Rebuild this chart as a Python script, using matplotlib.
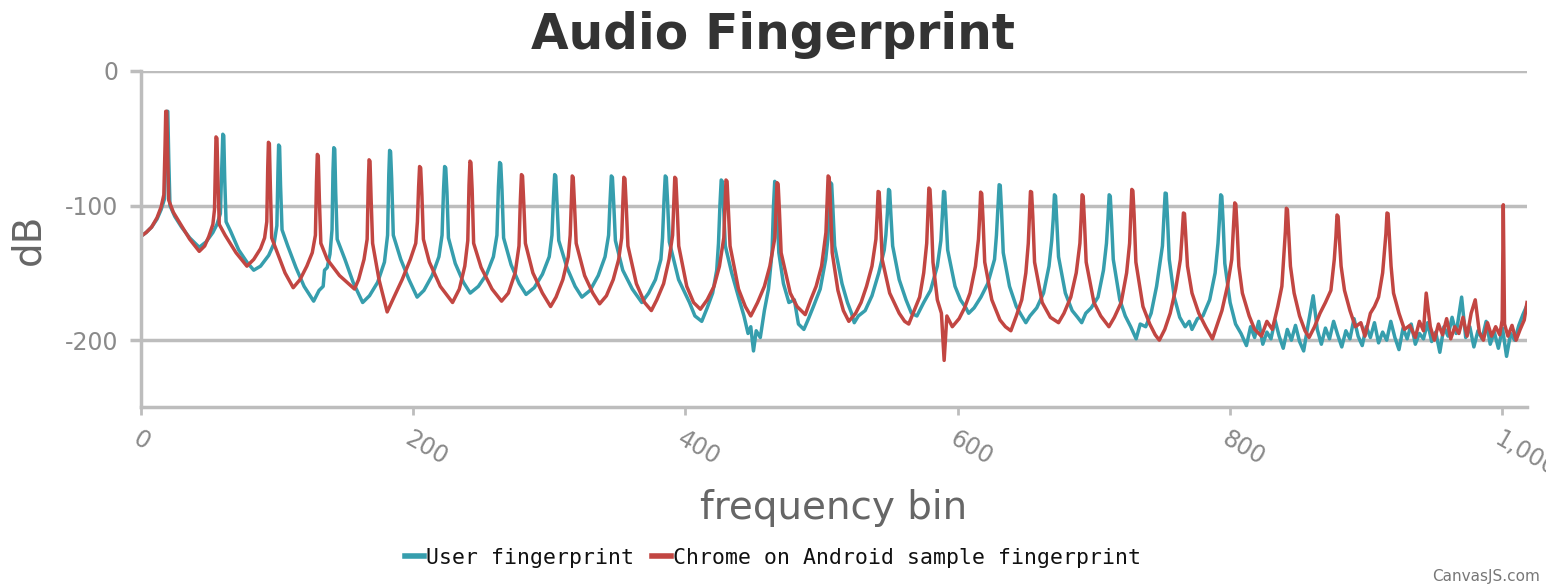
import matplotlib
matplotlib.use("Agg")
import matplotlib.pyplot as plt
from matplotlib.lines import Line2D

# (bin, dB)
user_points = [
    (0, -123), (4, -120), (8, -116), (12, -110), (15, -103), (17.5, -95), (18.6, -55), (19.2, -30), (19.9, -30),
    (20.6, -65), (21.5, -100), (25, -108), (30, -116), (36, -124), (43, -131),
    (48, -127), (53, -120), (56, -114), (58.5, -106), (59.6, -70), (60.3, -47), (61, -48), (61.7, -80), (62.7, -112),
    (66, -119), (72, -133), (78, -142), (83, -148),
    (88, -145), (94, -137), (98, -128), (100, -115), (100.8, -75), (101.3, -55), (102, -56), (102.7, -85),
    (103.8, -118), (108, -130), (114, -146), (120, -160), (127, -171),
    (131, -163), (134, -160), (135, -148), (137, -146), (139, -136), (140.5, -118), (141.2, -75), (141.8, -57),
    (142.5, -58), (143.2, -90), (144.3, -125), (150, -140), (156, -157), (163, -172),
    (168, -167), (174, -157), (179, -142), (181.3, -122), (182.2, -77), (182.8, -59), (183.5, -60), (184.3, -80),
    (185.5, -122), (191, -140), (197, -155), (203, -168),
    (208, -163), (214, -152), (219, -138), (221.3, -122), (222.4, -88), (223.2, -71), (224, -72), (224.9, -90),
    (226, -124), (231, -143), (237, -157), (242, -165),
    (248, -160), (254, -151), (259, -138), (261.6, -122), (262.7, -86), (263.6, -68), (264.4, -69), (265.3, -88),
    (266.5, -124), (272, -144), (278, -158), (283, -166),
    (289, -161), (295, -151), (300, -138), (302, -122), (303.1, -95), (304, -77), (304.8, -78), (305.7, -97),
    (307, -126), (313, -146), (319, -160), (324, -168),
    (330, -163), (336, -152), (341, -138), (343.6, -122), (344.7, -96), (345.6, -78), (346.4, -79), (347.3, -97),
    (348.6, -126), (354, -148), (361, -162), (368, -172),
    (373, -165), (378, -155), (382, -140), (383.2, -124), (384.3, -96), (385.2, -78), (386, -79), (386.9, -97),
    (388.2, -127), (395, -155), (403, -172), (407, -182), (412, -186),
    (416, -176), (420, -165), (423, -148), (424.3, -128), (425.4, -99), (426.3, -81), (427.1, -82), (428, -100),
    (429.3, -130), (434, -150), (439, -168), (443, -182), (446, -195), (448, -190), (450, -208), (452, -193),
    (455, -198), (458, -178),
    (461, -162), (463.6, -135), (464.7, -100), (465.6, -82), (466.4, -83), (467.3, -102), (468.6, -135), (472, -158),
    (476, -172), (480, -170), (483, -188), (487, -192), (490, -185),
    (494, -175), (499, -162), (503, -140), (504.6, -125), (505.7, -101), (506.6, -83), (507.4, -84), (508.3, -102),
    (509.6, -130), (515, -158), (519, -172), (522, -180), (524, -187), (527, -182),
    (532, -178), (537, -167), (542, -150), (546, -133), (547.2, -122), (548.3, -106), (549.2, -88), (550, -89),
    (550.9, -107), (552.2, -130), (557, -155), (562, -170), (566, -180), (570, -182),
    (575, -172), (580, -163), (585, -145), (587.6, -126), (588.7, -107), (589.6, -89.5), (590.4, -90), (591.3, -108),
    (592.6, -133), (598, -160), (602, -170), (606, -176), (608, -180), (612, -176),
    (617, -168), (622, -158), (627, -140), (628.4, -122), (629.5, -102), (630.4, -84.5), (631.2, -85), (632.1, -103),
    (633.4, -135), (638, -160), (643, -175), (647, -182), (650, -187), (653, -182),
    (658, -176), (663, -165), (667, -145), (669, -126), (670.1, -110), (671, -92), (671.8, -93), (672.7, -111),
    (674, -138), (679, -165), (684, -178), (688, -183), (691, -187), (694, -180),
    (698, -176), (703, -168), (707, -148), (709.2, -128), (710.3, -110), (711.2, -92), (712, -93), (712.9, -111),
    (714.2, -140), (719, -170), (723, -182), (727, -190), (731, -199), (734, -188),
    (738, -190), (742, -180), (746, -160), (750.3, -130), (751.4, -109), (752.3, -90.7), (753.1, -91), (754, -109),
    (755.3, -140), (759, -168), (763, -183), (767, -190), (770, -186), (772, -192), (776, -184),
    (780, -182), (785, -170), (789, -150), (791.1, -128), (792.2, -110), (793.1, -92), (793.9, -93), (794.8, -111),
    (796.1, -143), (800, -172), (804, -188), (808, -195), (812, -204),
    (815, -190), (818, -198), (821, -186), (824, -203), (827, -194), (830, -199), (833, -185), (836, -197),
    (839, -206), (842, -192), (845, -200), (848, -189), (851, -201), (854, -208), (857, -190), (861, -167),
    (864, -192), (867, -203), (870, -191), (873, -199), (876, -186), (879, -196), (882, -205), (885, -193),
    (888, -199), (891, -184), (894, -197), (897, -204), (900, -190), (903, -198), (906, -187), (909, -202),
    (912, -194), (915, -200), (918, -186), (921, -198), (924, -207), (927, -191), (930, -199), (933, -188),
    (936, -203), (939, -195), (942, -199), (945, -187), (948, -201), (951, -194), (954, -209), (957, -190),
    (960, -197), (963, -183), (966, -195), (970, -168), (973, -198), (976, -190), (979, -205), (982, -193),
    (985, -199), (988, -186), (991, -203), (994, -194), (997, -206), (1000, -191), (1003, -212), (1006, -195),
    (1009, -200), (1012, -189), (1015, -181), (1018, -174),
]

android_points = [
    (0, -123), (4, -120), (8, -116), (12, -109), (15, -101), (17, -92), (17.9, -55), (18.4, -30), (19.1, -30),
    (19.8, -62), (20.6, -96), (24, -105), (30, -115), (36, -125), (43, -134),
    (47, -130), (50, -123), (53, -114), (54.2, -103), (54.9, -70), (55.3, -49), (56, -50), (56.7, -80), (57.7, -114),
    (62, -122), (70, -135), (78, -145),
    (83, -140), (88, -132), (91, -124), (92.6, -112), (93.3, -72), (93.8, -53), (94.5, -54), (95.2, -85),
    (96.2, -124), (100, -134), (106, -150), (112, -161),
    (117, -155), (122, -145), (126, -135), (128.3, -122), (129.1, -82), (129.7, -62), (130.4, -63), (131.2, -95),
    (132.3, -128), (137, -140), (146, -152), (157, -162),
    (160, -155), (164, -140), (166.3, -125), (167.1, -85), (167.7, -66), (168.4, -67), (169.2, -95), (170.3, -128),
    (175, -155), (181, -179),
    (186, -168), (192, -155), (198, -140), (202, -128), (203.2, -112), (204.1, -86), (204.8, -71), (205.6, -72),
    (206.5, -92), (207.6, -125), (212, -142), (220, -160), (229, -172),
    (234, -162), (238, -145), (240.2, -126), (241.1, -85), (241.8, -67), (242.5, -68), (243.4, -88), (244.5, -128),
    (250, -146), (258, -162), (265, -171),
    (270, -165), (275, -150), (277.8, -130), (278.8, -96), (279.6, -77), (280.4, -78), (281.3, -98), (282.5, -128),
    (288, -150), (295, -165), (301, -175),
    (305, -168), (310, -155), (314, -138), (315.4, -122), (316.3, -96), (316.9, -78), (317.6, -79), (318.5, -98),
    (319.8, -128), (326, -152), (332, -165), (337, -173),
    (342, -167), (347, -155), (351, -140), (353.2, -124), (354.1, -97), (354.8, -79), (355.6, -80), (356.5, -99),
    (357.8, -130), (364, -158), (370, -172), (375, -178),
    (379, -170), (384, -158), (388, -140), (390.6, -122), (391.5, -97), (392.2, -79), (393, -80), (393.9, -100),
    (395.1, -130), (401, -160), (406, -172), (411, -177),
    (416, -170), (421, -160), (425, -145), (428.2, -124), (429.1, -99), (429.8, -81), (430.6, -82), (431.5, -101),
    (432.8, -130), (439, -162), (444, -175), (448, -182),
    (453, -172), (458, -160), (462, -145), (465.7, -124), (466.6, -101), (467.3, -83), (468.1, -84), (469, -103),
    (470.3, -135), (477, -165), (482, -175), (488, -181),
    (492, -170), (496, -160), (500, -145), (503.2, -120), (504.1, -96), (504.8, -78), (505.6, -79), (506.5, -99),
    (507.8, -135), (512, -163), (516, -178), (520, -186),
    (525, -180), (529, -172), (533, -160), (537, -145), (539.9, -125), (540.8, -107), (541.5, -89.5), (542.3, -90),
    (543.2, -108), (544.5, -140), (550, -165), (557, -180), (561, -186), (564, -188),
    (568, -178), (572, -168), (575, -150), (577.2, -128), (578.1, -105), (578.8, -87), (579.6, -88), (580.5, -106),
    (581.8, -142), (585, -170), (588, -180), (590, -215), (592, -182), (596, -190), (601, -184),
    (605, -176), (609, -165), (613, -145), (615.2, -125), (616.1, -108), (616.8, -90), (617.6, -91), (618.5, -109),
    (619.8, -142), (625, -170), (631, -185), (635, -190), (639, -193),
    (643, -182), (647, -170), (650, -150), (651.8, -128), (652.7, -107), (653.4, -89.5), (654.2, -90), (655.1, -108),
    (656.4, -142), (662, -172), (668, -183), (674, -187),
    (678, -180), (683, -168), (687, -150), (689.7, -128), (690.6, -110), (691.3, -92), (692.1, -93), (693, -111),
    (694.3, -142), (700, -172), (705, -182), (711, -190),
    (715, -183), (720, -172), (724, -150), (726.2, -128), (727.1, -106), (727.8, -88), (728.6, -89), (729.5, -107),
    (730.8, -142), (736, -175), (741, -188), (745, -196), (748, -200),
    (752, -192), (756, -180), (760, -162), (763.5, -140), (764.8, -121), (765.7, -105.5), (766.5, -106),
    (767.4, -122), (768.7, -145), (772, -165), (777, -180), (782, -190), (787, -199),
    (790, -190), (794, -178), (798, -160), (801.2, -140), (802.5, -115), (803.4, -98), (804.2, -99), (805.1, -116),
    (806.4, -145), (809, -165), (814, -182), (818, -192), (823, -197),
    (827, -186), (831, -192), (835, -175), (838, -160), (839.4, -138), (840.6, -119), (841.3, -102), (842.1, -103),
    (843, -120), (844.3, -145), (847, -165), (851, -182), (855, -193), (858, -198),
    (862, -190), (866, -180), (870, -172), (874, -163), (876.5, -140), (877.7, -123), (878.5, -107), (879.3, -108),
    (880.2, -124), (881.5, -145), (884, -163), (888, -178), (892, -190), (896, -187), (899, -197),
    (903, -180), (906, -175), (909, -168), (912, -150), (913.4, -133), (914.4, -121), (915.2, -105.5), (916, -106),
    (916.9, -122), (918.2, -145), (920, -165), (924, -180), (928, -192), (932, -189),
    (936, -198), (939, -186), (942, -193), (944, -165), (947, -190), (950, -200), (953, -188), (956, -196),
    (959, -184), (962, -199), (965, -190), (968, -195), (971, -183), (974, -197), (977, -180), (980, -170),
    (983, -194), (986, -200), (989, -187), (992, -197), (995, -190), (998, -196), (999.8, -185), (1000.6, -99.4),
    (1001.5, -188), (1004, -197), (1007, -189), (1010, -200), (1013, -192), (1016, -185), (1018, -172),
]

y_ticks = [0, -100, -200]
x_ticks = [0, 200, 400, 600, 800, 1000]
x_tick_labels = ["0", "200", "400", "600", "800", "1,000"]

teal = "#369EAD"
red = "#C24642"
grid_c = "#BDBDBD"

fig = plt.figure(figsize=(15.46, 5.87), dpi=100)
ax = fig.add_axes([0.091, 0.3058, 0.8967, 0.5733])

ux, uy = zip(*user_points)
rx, ry = zip(*android_points)
ax.plot(ux, uy, color=teal, linewidth=2.5, solid_joinstyle="round")
ax.plot(rx, ry, color=red, linewidth=2.5, solid_joinstyle="round")

ax.set_xlim(0, 1018)
ax.set_ylim(-250, 0)
ax.set_yticks(y_ticks)
ax.set_yticklabels([str(v) for v in y_ticks])
ax.set_xticks(x_ticks)
ax.set_xticklabels(x_tick_labels, rotation=-30, ha="left", va="top", rotation_mode="anchor")
ax.grid(axis="y", color=grid_c, linewidth=2.5, zorder=0)
ax.set_axisbelow(True)

for s in ["top", "right"]:
    ax.spines[s].set_visible(False)
for s in ["left", "bottom"]:
    ax.spines[s].set_color(grid_c)
    ax.spines[s].set_linewidth(2.5)

ax.tick_params(axis="y", length=8, width=2.5, color=grid_c, labelsize=17, labelcolor="#8A8A8A", pad=8)
ax.tick_params(axis="x", length=6, width=2, color=grid_c, labelsize=17, labelcolor="#8A8A8A", pad=8)

fig.text(0.5, 1 - 35 / 587, "Audio Fingerprint", ha="center", va="center",
         fontsize=35, fontweight="bold", color="#333333")
fig.text(28 / 1546, 1 - 239 / 587, "dB", rotation=90, ha="center", va="center",
         fontsize=28, color="#666666")
fig.text(834 / 1546, 1 - 508 / 587, "frequency bin", ha="center", va="center",
         fontsize=28, color="#666666")

handles = [Line2D([], [], color=teal, linewidth=4), Line2D([], [], color=red, linewidth=4)]
fig.legend(handles, ["User fingerprint", "Chrome on Android sample fingerprint"],
           loc="lower center", bbox_to_anchor=(0.5, 0.0), ncol=2, frameon=False,
           prop={"family": "DejaVu Sans Mono", "size": 15.5}, handlelength=0.9,
           handletextpad=0.1, columnspacing=0.8, labelcolor="#111111")

fig.text(1540 / 1546, 1 - 577 / 587, "CanvasJS.com", ha="right", va="center",
         fontsize=11, color="#777777")

fig.savefig("out.png", dpi=100, facecolor="white")
